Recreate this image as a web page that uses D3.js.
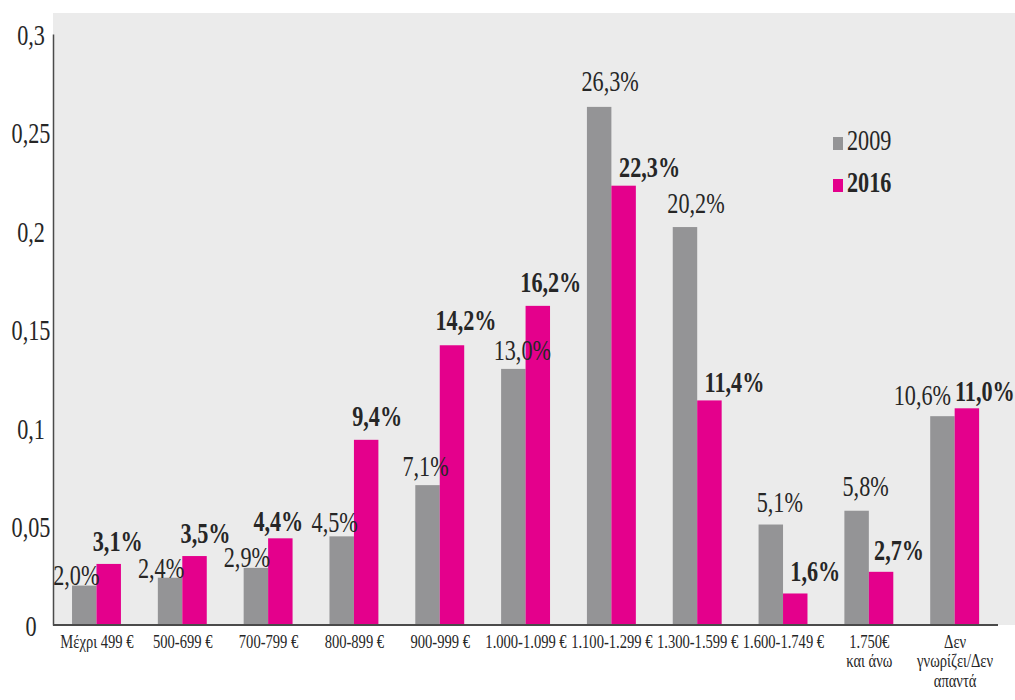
<!DOCTYPE html>
<html>
<head>
<meta charset="utf-8">
<script src="https://cdn.jsdelivr.net/npm/d3@7/dist/d3.min.js"></script>
<style>
  html, body { margin: 0; padding: 0; background: #ffffff; }
  svg { display: block; }
  text { font-family: "Liberation Serif", "DejaVu Serif", serif; fill: #262626; }
</style>
</head>
<body>
<script>
// Income bands (monthly net household income)
const categories = [
  "Μέχρι 499 €", "500-699 €", "700-799 €", "800-899 €", "900-999 €",
  "1.000-1.099 €", "1.100-1.299 €", "1.300-1.599 €", "1.600-1.749 €",
  "1.750€\nκαι άνω", "Δεν\nγνωρίζει/Δεν\nαπαντά"
];
const seriesNames = ["2009", "2016"];
const values2009 = [0.020, 0.024, 0.029, 0.045, 0.071, 0.130, 0.263, 0.202, 0.051, 0.058, 0.106];
const values2016 = [0.031, 0.035, 0.044, 0.094, 0.142, 0.162, 0.223, 0.114, 0.016, 0.027, 0.110];
const yTicks = [0, 0.05, 0.1, 0.15, 0.2, 0.25, 0.3];

// Hand placement of the value labels: [horizontal shift, gap above bar top]
const labelPlace2009 = [[-8, 1], [-9, 0], [-9, 1], [-7, 4], [-2, 9], [9, 9], [11, 16], [11, 14], [9, 13], [9, 15], [-20, 11]];
const labelPlace2016 = [[9, 13], [11, 13], [-2, 7], [11, 14], [14, 15], [13, 14], [26, 9], [25, 8], [20, 12], [18, 12], [18, 7]];

const W = 1015, H = 700;
const colors = { "2009": "#949496", "2016": "#e4008c" };
const BIG = 30, SMALL = 18;      // font sizes
const SQ = 0.74, SQX = 0.81;      // horizontal squeeze for the narrow face

const svg = d3.select("body").append("svg").attr("width", W).attr("height", H);

const x0 = d3.scaleBand().domain(categories).range([54, 998]).padding(0);
const x1 = d3.scaleBand().domain(seriesNames)
  .range([x0.bandwidth() * 0.21, x0.bandwidth() * 0.78]).padding(0);
const y = d3.scaleLinear().domain([0, 0.3]).range([625, 34]);

// plot background
svg.append("rect")
  .attr("x", 53).attr("y", 13)
  .attr("width", W - 53).attr("height", y(0) - 13)
  .attr("fill", "#ebebeb");

const fmtTick = d => d === 0 ? "0" : String(d).replace(".", ",");
const fmtPct = v => (v * 100).toFixed(1).replace(".", ",") + "%";

// bars
const rows = categories.map((c, i) => ({ c, i, vals: [
  { s: "2009", v: values2009[i] }, { s: "2016", v: values2016[i] }
]}));

const groups = svg.append("g").selectAll("g").data(rows).join("g")
  .attr("transform", d => `translate(${x0(d.c)},0)`);

groups.selectAll("rect").data(d => d.vals).join("rect")
  .attr("x", d => x1(d.s))
  .attr("width", x1.bandwidth())
  .attr("y", d => y(d.v))
  .attr("height", d => y(0) - y(d.v))
  .attr("fill", d => colors[d.s]);

// y axis
const yAxis = svg.append("g")
  .attr("transform", "translate(53,0)")
  .call(d3.axisLeft(y).tickValues(yTicks).tickFormat(fmtTick).tickSize(0).tickSizeOuter(0).tickPadding(0));
yAxis.select(".domain").attr("stroke", "#4a4a4a").attr("stroke-width", 1.5);
yAxis.selectAll("text")
  .attr("x", 0).attr("dy", null)
  .attr("text-anchor", "middle")
  .attr("transform", `translate(-22,10) scale(${SQ},1)`)
  .style("font-size", BIG + "px")
  .style("font-family", null)
  .attr("fill", "#262626");

// x axis
const xAxis = svg.append("g")
  .attr("transform", `translate(0,${y(0)})`)
  .call(d3.axisBottom(x0).tickSize(0).tickSizeOuter(0).tickPadding(0));
xAxis.select(".domain").attr("stroke", "#4a4a4a").attr("stroke-width", 2)
  .attr("d", "M53,0H998");
xAxis.selectAll("text").each(function(d) {
  const t = d3.select(this);
  t.text(null)
    .attr("y", 0).attr("dy", null)
    .attr("text-anchor", "middle")
    .attr("transform", `translate(0,23) scale(${SQX},1)`)
    .style("font-size", SMALL + "px")
    .attr("fill", "#262626");
  d.split("\n").forEach((line, k) => {
    t.append("tspan").attr("x", 0).attr("y", k * 19.5).text(line);
  });
});

// value labels
const labels = svg.append("g");
rows.forEach(r => {
  r.vals.forEach(p => {
    const place = p.s === "2009" ? labelPlace2009[r.i] : labelPlace2016[r.i];
    const cx = x0(r.c) + x1(p.s) + x1.bandwidth() / 2 + place[0];
    const cy = y(p.v) - place[1];
    labels.append("text")
      .attr("text-anchor", "middle")
      .attr("transform", `translate(${cx},${cy}) scale(${SQ},1)`)
      .style("font-size", BIG + "px")
      .style("font-weight", p.s === "2016" ? "bold" : "normal")
      .text(fmtPct(p.v));
  });
});

// legend
const legend = svg.append("g").attr("transform", "translate(833,0)");
seriesNames.forEach((s, k) => {
  const base = 150 + k * 42;
  legend.append("rect")
    .attr("x", 0).attr("y", base - 13)
    .attr("width", 10).attr("height", 13)
    .attr("fill", colors[s]);
  legend.append("text")
    .attr("transform", `translate(14,${base}) scale(${SQ},1)`)
    .style("font-size", BIG + "px")
    .style("font-weight", s === "2016" ? "bold" : "normal")
    .text(s);
});
</script>
</body>
</html>
